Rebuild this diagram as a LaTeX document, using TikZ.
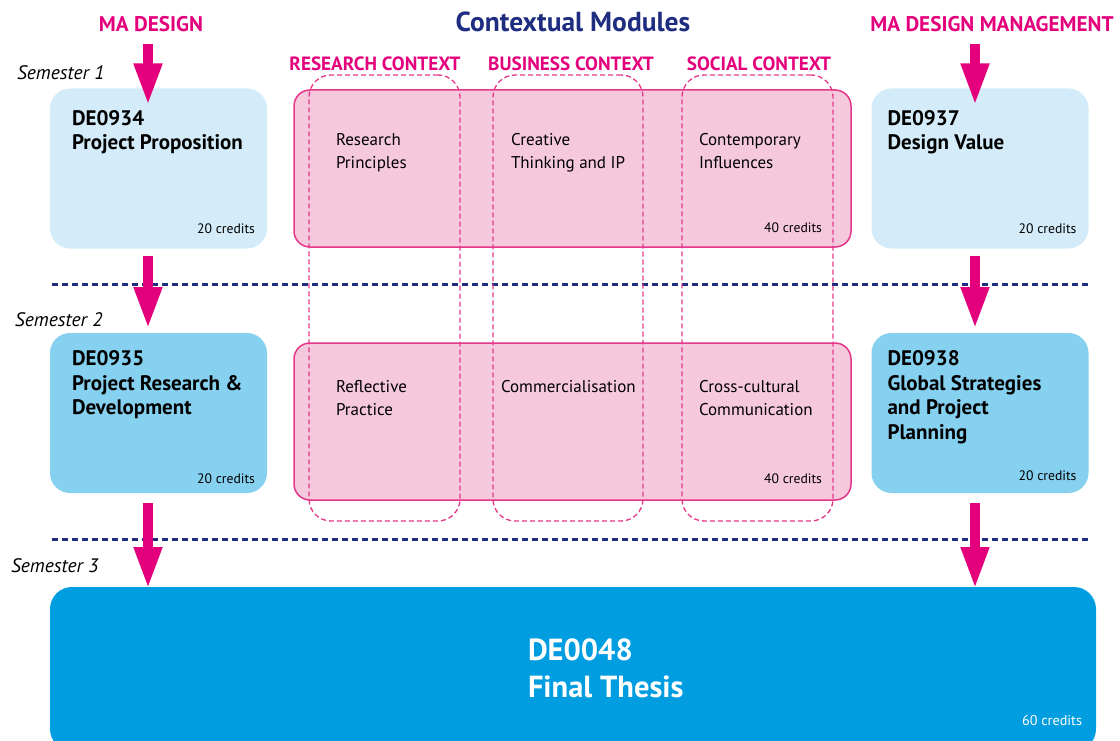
\documentclass[tikz,border=0pt]{standalone}
\usepackage{fontspec}
\setmainfont{PT Sans}
\usetikzlibrary{arrows.meta}

\definecolor{cmagenta}{HTML}{E4007C}
\definecolor{pinkfill}{HTML}{F5C8DC}
\definecolor{pinkedge}{HTML}{E5378A}
\definecolor{paleblue}{HTML}{D4ECF9}
\definecolor{midblue}{HTML}{86D0F0}
\definecolor{deepblue}{HTML}{009EE0}
\definecolor{navy}{HTML}{1F2D80}

\begin{document}
\begin{tikzpicture}[x=1pt, y=-1pt,
    every node/.style={inner sep=0pt, outer sep=0pt},
    module/.style={rounded corners=20pt, minimum width=217pt, minimum height=160pt},
    band/.style={rounded corners=16pt, draw=pinkedge, line width=1.5pt, fill=pinkfill,
                 minimum width=557pt, minimum height=157pt},
    ctxbox/.style={rounded corners=22pt, draw=pinkedge, line width=1.3pt,
                   dash pattern=on 5pt off 3pt, minimum width=151pt, minimum height=446pt},
    modtitle/.style={font=\bfseries\fontsize{21}{24.5}\selectfont, align=left, anchor=north west},
    subject/.style={font=\fontsize{17}{23}\selectfont, align=left, anchor=north west},
    credits/.style={font=\fontsize{13.7}{15}\selectfont, anchor=base east},
    programme/.style={font=\bfseries\fontsize{21.2}{24}\selectfont, text=cmagenta, anchor=base},
    ctxlabel/.style={font=\bfseries\fontsize{19.2}{22}\selectfont, text=cmagenta, anchor=base},
    semester/.style={font=\itshape\fontsize{19.5}{22}\selectfont, anchor=base west},
    flow/.style={draw=cmagenta, line width=10pt, -{Triangle[length=42pt, width=26pt]}},
    divider/.style={draw=navy, line width=3pt, dash pattern=on 6pt off 4pt}]
    \useasboundingbox (0,0) rectangle (1120,741);

    % Headings:
    \node[programme] (mad) at (151,32) {MA DESIGN};
    \node[programme] (madm) at (992,32) {MA DESIGN MANAGEMENT};
    \node[font=\bfseries\fontsize{27.5}{30}\selectfont, text=navy, anchor=base] (ctx) at (573,32) {Contextual Modules};

    % Semesters:
    \node[semester] (sem1) at (17,80) {Semester 1};
    \node[semester] (sem2) at (15,326) {Semester 2};
    \node[semester] (sem3) at (11,572) {Semester 3};
    \draw[divider] (52,284) -- (1090,284);
    \draw[divider] (52,539) -- (1090,539);

    % Modules:
    \node[module, fill=paleblue] (dea) at (158.5,168.5) {};
    \node[module, fill=midblue] (deb) at (158.5,413) {};
    \node[module, fill=paleblue] (dfa) at (980,168.5) {};
    \node[module, fill=midblue] (dfb) at (980,413) {};
    \node[rounded corners=22pt, fill=deepblue, minimum width=1046pt, minimum height=164pt] (thesis) at (573,669) {};

    \node[modtitle] at ([shift={(22,22)}]dea.north west) {DE0934\\Project Proposition};
    \node[modtitle] at ([shift={(22,18)}]deb.north west) {DE0935\\Project Research \&\\Development};
    \node[modtitle] at ([shift={(16,22)}]dfa.north west) {DE0937\\Design Value};
    \node[modtitle] at ([shift={(16,18)}]dfb.north west) {DE0938\\Global Strategies\\and Project\\Planning};
    \node[modtitle, font=\bfseries\fontsize{30.5}{37}\selectfont, text=white] at ([shift={(478,52)}]thesis.north west) {DE0048\\Final Thesis};

    \node[credits] at ([shift={(-12,-15)}]dea.south east) {20 credits};
    \node[credits] at ([shift={(-12,-10)}]deb.south east) {20 credits};
    \node[credits] at ([shift={(-12,-15)}]dfa.south east) {20 credits};
    \node[credits] at ([shift={(-12,-13)}]dfb.south east) {20 credits};
    \node[credits, font=\fontsize{14.2}{16}\selectfont, text=white] at (1082,725) {60 credits};

    % Contextual modules:
    \node[band] (rowa) at (572.5,168.5) {};
    \node[band] (rowb) at (572.5,421.5) {};
    \node[ctxbox] (research) at (384.5,298) {};
    \node[ctxbox, minimum width=150pt] (business) at (568,298) {};
    \node[ctxbox] (social) at (757.5,298) {};
    \node[ctxlabel] at (375,71) {RESEARCH CONTEXT};
    \node[ctxlabel] at (571,71) {BUSINESS CONTEXT};
    \node[ctxlabel] at (759,71) {SOCIAL CONTEXT};

    \node[subject] at (336,133) {Research\\Principles};
    \node[subject] at (511,133) {Creative\\Thinking and IP};
    \node[subject] at (699,133) {Contemporary\\Influences};
    \node[subject] at (336,380) {Reflective\\Practice};
    \node[subject] at (501,380) {Commercialisation};
    \node[subject] at (699,380) {Cross-cultural\\Communication};
    \node[credits] at ([shift={(-29,-14)}]rowa.south east) {40 credits};
    \node[credits] at ([shift={(-29,-17)}]rowb.south east) {40 credits};

    % Arrows:
    \coordinate (lcol) at (148,0);
    \coordinate (rcol) at (975,0);
    \draw[flow] ([yshift=-12pt]mad.south -| lcol) -- ([yshift=-17pt]dea.north -| lcol);
    \draw[flow] ([yshift=-7pt]dea.south -| lcol) -- ([yshift=4pt]deb.north -| lcol);
    \draw[flow] ([yshift=-10pt]deb.south -| lcol) -- ([yshift=-2pt]thesis.north -| lcol);
    \draw[flow] ([yshift=-12pt]madm.south -| rcol) -- ([yshift=-17pt]dfa.north -| rcol);
    \draw[flow] ([yshift=-7pt]dfa.south -| rcol) -- ([yshift=4pt]dfb.north -| rcol);
    \draw[flow] ([yshift=-10pt]dfb.south -| rcol) -- ([yshift=-2pt]thesis.north -| rcol);
\end{tikzpicture}
\end{document}
